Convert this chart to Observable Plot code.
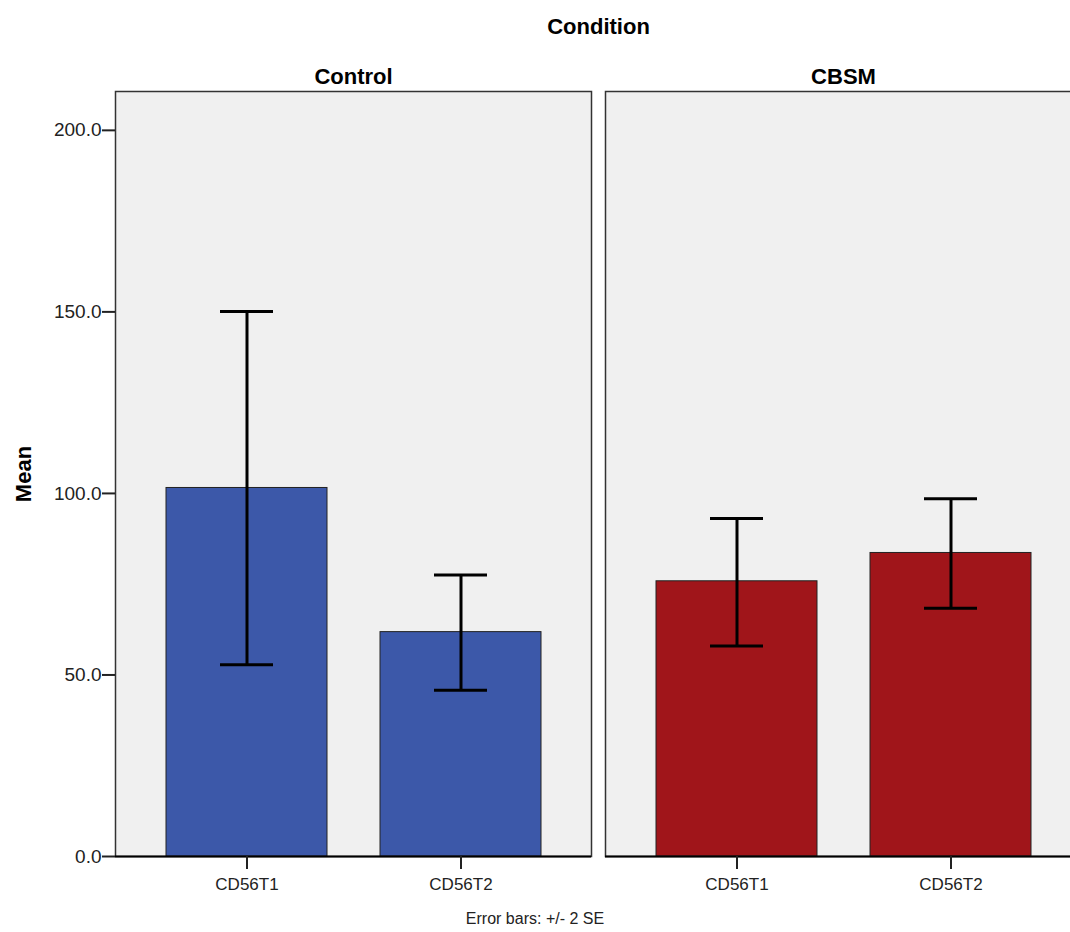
<!DOCTYPE html>
<html><head><meta charset="utf-8">
<script src="https://cdn.jsdelivr.net/npm/d3@7"></script>
<script src="https://cdn.jsdelivr.net/npm/@observablehq/plot@0.6"></script>
<style>
html,body{margin:0;padding:0;background:#fff;overflow:hidden;}
#caption{font-family:"Liberation Sans",Arial,sans-serif;font-size:16px;text-align:center;width:1070px;height:20px;line-height:20px;margin-top:9px;color:#222;}
#chart svg{display:block;max-width:none !important;}
</style></head><body>
<div id="chart"></div>
<div id="caption">Error bars: +/- 2 SE</div>
<script>
const conditions = ["Control", "Control", "CBSM", "CBSM"];
const variables = ["CD56T1", "CD56T2", "CD56T1", "CD56T2"];
const means = [101.5, 61.8, 75.8, 83.6];
const errLow = [52.8, 45.8, 58.0, 68.4];
const errHigh = [150.1, 77.5, 93.1, 98.5];
const yTicks = [0, 50, 100, 150, 200];
const conditionOrder = ["Control", "CBSM"];
const variableOrder = ["CD56T1", "CD56T2"];
const colors = ["#3C58A9", "#A0151A"];

const data = means.map((m, i) => ({condition: conditions[i], variable: variables[i], mean: m, lo: errLow[i], hi: errHigh[i]}));

const font = '"Liberation Sans", Arial, sans-serif';
const chart = Plot.plot({
  width: 1081, height: 900,
  marginTop: 91, marginBottom: 44, marginLeft: 115, marginRight: 0,
  style: {fontFamily: font, background: "#fff", color: "#222", maxWidth: "none"},
  fx: {domain: conditionOrder, paddingInner: 14 / 490, paddingOuter: 0},
  x: {domain: variableOrder, paddingInner: 0.248, paddingOuter: 0.236},
  y: {domain: [0, 210.7]},
  color: {domain: conditionOrder, range: colors},
  marks: [
    Plot.frame({fill: "#F0F0F0", stroke: "#333", strokeWidth: 1.5}),
    Plot.barY(data, {fx: "condition", x: "variable", y: "mean", fill: "condition", stroke: "#222", strokeWidth: 1}),
    Plot.ruleX(data, {fx: "condition", x: "variable", y1: "lo", y2: "hi", stroke: "#000", strokeWidth: 3}),
    Plot.tickY(data, {fx: "condition", x: "variable", y: "lo", stroke: "#000", strokeWidth: 3, insetLeft: 54, insetRight: 54}),
    Plot.tickY(data, {fx: "condition", x: "variable", y: "hi", stroke: "#000", strokeWidth: 3, insetLeft: 54, insetRight: 54}),
    Plot.ruleY([0], {stroke: "#000", strokeWidth: 2}),
    Plot.axisY({ticks: yTicks, tickFormat: d => d.toFixed(1), tickSize: 13, tickPadding: 1, fontSize: 19, label: null, stroke: "#222", strokeWidth: 2}),
    Plot.axisY({ticks: [], label: "Mean", labelArrow: "none", labelAnchor: "center", labelOffset: 100, fontSize: 22, fontWeight: "bold", fill: "#000"}),
    Plot.axisX({tickSize: 13, tickPadding: 8, fontSize: 17, label: null, stroke: "#222", strokeWidth: 2}),
    Plot.axisFx({anchor: "top", tickSize: 0, tickPadding: 8, fontSize: 22, fontWeight: "bold", fill: "#000", label: "Condition", labelArrow: "none", labelAnchor: "center", labelOffset: 73})
  ]
});
document.getElementById("chart").appendChild(chart);
</script>
</body></html>
